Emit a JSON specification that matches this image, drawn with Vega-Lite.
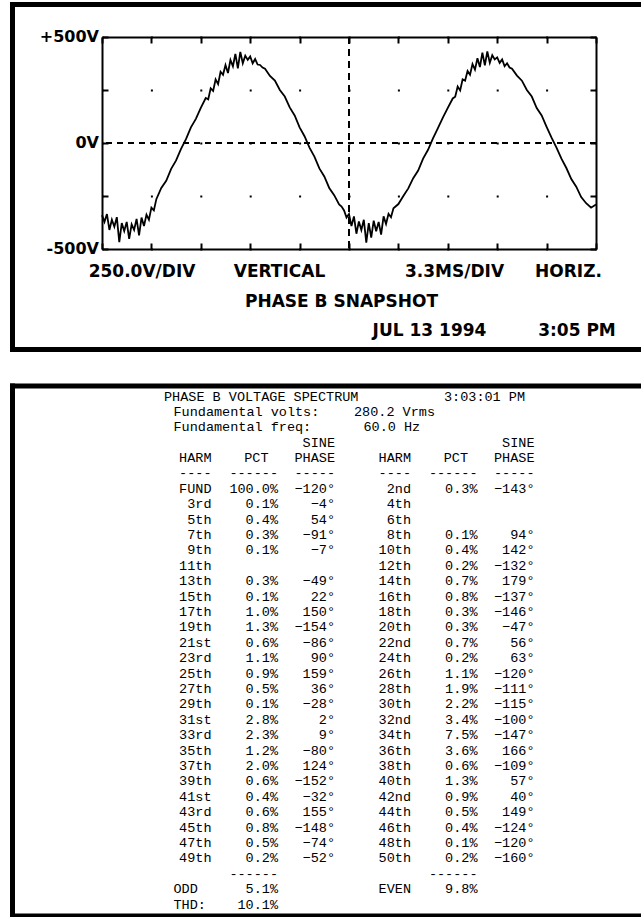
{
  "$schema": "https://vega.github.io/schema/vega-lite/v6.json",
  "padding": {"left": 8, "top": 0, "right": 0, "bottom": 0},
  "background": "white",
  "spacing": 28,
  "config": {
    "view": {"stroke": null},
    "text": {"font": "Liberation Mono", "fontSize": 13.5, "baseline": "middle", "color": "#000"}
  },
  "datasets": {
    "wave": [
      {"t":0,"v":-340},{"t":0.165,"v":-372},{"t":0.33,"v":-335},{"t":0.495,"v":-410},{"t":0.66,"v":-362},{"t":0.825,"v":-395},
      {"t":0.99,"v":-350},{"t":1.155,"v":-468},{"t":1.32,"v":-378},{"t":1.485,"v":-415},{"t":1.65,"v":-372},{"t":1.815,"v":-452},
      {"t":1.98,"v":-384},{"t":2.145,"v":-410},{"t":2.31,"v":-358},{"t":2.475,"v":-436},{"t":2.64,"v":-352},{"t":2.805,"v":-392},
      {"t":2.97,"v":-338},{"t":3.135,"v":-362},{"t":3.3,"v":-305},{"t":3.465,"v":-318},{"t":3.63,"v":-265},
      {"t":3.96,"v":-212},{"t":4.29,"v":-178},{"t":4.62,"v":-122},{"t":4.95,"v":-82},{"t":5.28,"v":-28},{"t":5.61,"v":18},
      {"t":5.94,"v":74},{"t":6.27,"v":114},{"t":6.6,"v":166},
      {"t":6.93,"v":212},{"t":7.095,"v":206},{"t":7.26,"v":258},{"t":7.425,"v":246},{"t":7.59,"v":300},{"t":7.755,"v":278},
      {"t":7.92,"v":336},{"t":8.085,"v":322},{"t":8.25,"v":368},{"t":8.415,"v":330},{"t":8.58,"v":392},{"t":8.745,"v":362},
      {"t":8.91,"v":420},{"t":9.075,"v":352},{"t":9.24,"v":430},{"t":9.405,"v":376},{"t":9.57,"v":412},{"t":9.735,"v":392},
      {"t":9.9,"v":408},{"t":10.065,"v":376},{"t":10.23,"v":396},{"t":10.395,"v":370},{"t":10.56,"v":368},{"t":10.725,"v":356},
      {"t":10.89,"v":350},
      {"t":11.22,"v":316},{"t":11.55,"v":294},{"t":11.88,"v":250},{"t":12.21,"v":219},{"t":12.54,"v":168},{"t":12.87,"v":130},
      {"t":13.2,"v":74},{"t":13.53,"v":32},{"t":13.86,"v":-22},{"t":14.19,"v":-64},{"t":14.52,"v":-120},{"t":14.85,"v":-158},
      {"t":15.18,"v":-212},{"t":15.51,"v":-246},{"t":15.84,"v":-290},
      {"t":16.005,"v":-300},{"t":16.17,"v":-318},{"t":16.335,"v":-352},{"t":16.5,"v":-335},{"t":16.665,"v":-392},{"t":16.83,"v":-346},
      {"t":16.995,"v":-428},{"t":17.16,"v":-370},{"t":17.325,"v":-410},{"t":17.49,"v":-362},{"t":17.655,"v":-470},{"t":17.82,"v":-378},
      {"t":17.985,"v":-446},{"t":18.15,"v":-366},{"t":18.315,"v":-416},{"t":18.48,"v":-372},{"t":18.645,"v":-432},{"t":18.81,"v":-346},
      {"t":18.975,"v":-382},{"t":19.14,"v":-334},{"t":19.305,"v":-350},{"t":19.47,"v":-308},
      {"t":19.8,"v":-288},{"t":20.13,"v":-250},{"t":20.46,"v":-214},{"t":20.79,"v":-166},{"t":21.12,"v":-130},{"t":21.45,"v":-74},
      {"t":21.78,"v":-32},{"t":22.11,"v":22},{"t":22.44,"v":70},{"t":22.77,"v":120},{"t":23.1,"v":166},{"t":23.43,"v":210},
      {"t":23.595,"v":218},{"t":23.76,"v":266},{"t":23.925,"v":248},{"t":24.09,"v":300},{"t":24.255,"v":294},{"t":24.42,"v":340},
      {"t":24.585,"v":322},{"t":24.75,"v":372},{"t":24.915,"v":346},{"t":25.08,"v":400},{"t":25.245,"v":358},{"t":25.41,"v":426},
      {"t":25.575,"v":366},{"t":25.74,"v":432},{"t":25.905,"v":378},{"t":26.07,"v":414},{"t":26.235,"v":394},{"t":26.4,"v":404},
      {"t":26.565,"v":378},{"t":26.73,"v":394},{"t":26.895,"v":362},{"t":27.06,"v":376},{"t":27.225,"v":356},{"t":27.39,"v":350},
      {"t":27.72,"v":318},{"t":28.05,"v":294},{"t":28.38,"v":250},{"t":28.71,"v":219},{"t":29.04,"v":165},{"t":29.37,"v":130},
      {"t":29.7,"v":76},{"t":30.03,"v":25},{"t":30.36,"v":-22},{"t":30.69,"v":-74},{"t":31.02,"v":-118},{"t":31.35,"v":-170},
      {"t":31.68,"v":-206},{"t":32.01,"v":-255},{"t":32.34,"v":-284},{"t":32.67,"v":-305},{"t":33,"v":-290}
    ],
    "ylab": [
      {"label": "+500V", "v": 500},
      {"label": "0V", "v": 0},
      {"label": "-500V", "v": -500}
    ],
    "info": [
      {"line": 0, "a": "PHASE B VOLTAGE SPECTRUM", "b": "3:03:01 PM"},
      {"line": 1, "a": "Fundamental volts:", "b": "280.2 Vrms"},
      {"line": 2, "a": "Fundamental freq:", "b": "60.0 Hz"}
    ],
    "table": [
      {"line":3,"oh":"","op":"","ox":"SINE","eh":"","ep":"","ex":"SINE"},
      {"line":4,"oh":"HARM","op":"","oq":"PCT","ox":"PHASE","eh":"HARM","ep":"","eq":"PCT","ex":"PHASE"},
      {"line":5,"oh":"----","op":"------","ox":"-----","eh":"----","ep":"------","ex":"-----"},
      {"line":6,"oh":"FUND","op":"100.0%","ox":"−120°","eh":"2nd","ep":"0.3%","ex":"−143°"},
      {"line":7,"oh":"3rd","op":"0.1%","ox":"−4°","eh":"4th","ep":"","ex":""},
      {"line":8,"oh":"5th","op":"0.4%","ox":"54°","eh":"6th","ep":"","ex":""},
      {"line":9,"oh":"7th","op":"0.3%","ox":"−91°","eh":"8th","ep":"0.1%","ex":"94°"},
      {"line":10,"oh":"9th","op":"0.1%","ox":"−7°","eh":"10th","ep":"0.4%","ex":"142°"},
      {"line":11,"oh":"11th","op":"","ox":"","eh":"12th","ep":"0.2%","ex":"−132°"},
      {"line":12,"oh":"13th","op":"0.3%","ox":"−49°","eh":"14th","ep":"0.7%","ex":"179°"},
      {"line":13,"oh":"15th","op":"0.1%","ox":"22°","eh":"16th","ep":"0.8%","ex":"−137°"},
      {"line":14,"oh":"17th","op":"1.0%","ox":"150°","eh":"18th","ep":"0.3%","ex":"−146°"},
      {"line":15,"oh":"19th","op":"1.3%","ox":"−154°","eh":"20th","ep":"0.3%","ex":"−47°"},
      {"line":16,"oh":"21st","op":"0.6%","ox":"−86°","eh":"22nd","ep":"0.7%","ex":"56°"},
      {"line":17,"oh":"23rd","op":"1.1%","ox":"90°","eh":"24th","ep":"0.2%","ex":"63°"},
      {"line":18,"oh":"25th","op":"0.9%","ox":"159°","eh":"26th","ep":"1.1%","ex":"−120°"},
      {"line":19,"oh":"27th","op":"0.5%","ox":"36°","eh":"28th","ep":"1.9%","ex":"−111°"},
      {"line":20,"oh":"29th","op":"0.1%","ox":"−28°","eh":"30th","ep":"2.2%","ex":"−115°"},
      {"line":21,"oh":"31st","op":"2.8%","ox":"2°","eh":"32nd","ep":"3.4%","ex":"−100°"},
      {"line":22,"oh":"33rd","op":"2.3%","ox":"9°","eh":"34th","ep":"7.5%","ex":"−147°"},
      {"line":23,"oh":"35th","op":"1.2%","ox":"−80°","eh":"36th","ep":"3.6%","ex":"166°"},
      {"line":24,"oh":"37th","op":"2.0%","ox":"124°","eh":"38th","ep":"0.6%","ex":"−109°"},
      {"line":25,"oh":"39th","op":"0.6%","ox":"−152°","eh":"40th","ep":"1.3%","ex":"57°"},
      {"line":26,"oh":"41st","op":"0.4%","ox":"−32°","eh":"42nd","ep":"0.9%","ex":"40°"},
      {"line":27,"oh":"43rd","op":"0.6%","ox":"155°","eh":"44th","ep":"0.5%","ex":"149°"},
      {"line":28,"oh":"45th","op":"0.8%","ox":"−148°","eh":"46th","ep":"0.4%","ex":"−124°"},
      {"line":29,"oh":"47th","op":"0.5%","ox":"−74°","eh":"48th","ep":"0.1%","ex":"−120°"},
      {"line":30,"oh":"49th","op":"0.2%","ox":"−52°","eh":"50th","ep":"0.2%","ex":"−160°"},
      {"line":31,"oh":"","op":"------","ox":"","eh":"","ep":"------","ex":""},
      {"line":32,"oh":"","ol":"ODD","op":"5.1%","ox":"","eh":"EVEN","ep":"9.8%","ex":""},
      {"line":33,"oh":"","ol":"THD:","op":"10.1%","ox":"","eh":"","ep":"","ex":""}
    ]
  },
  "vconcat": [
    {
      "width": 494,
      "height": 212,
      "resolve": {"axis": {"x": "independent", "y": "independent"}},
      "layer": [
        {
          "data": {"values": [{}]},
          "mark": {"type": "rule", "color": "#000", "strokeWidth": 2, "strokeDash": [6, 5]},
          "encoding": {
            "y": {"datum": 0, "type": "quantitative", "scale": {"domain": [-500, 500], "nice": false, "zero": false},
              "axis": {"orient": "right", "values": [-500, -250, 0, 250, 500], "labels": false, "title": null, "tickSize": -6, "tickWidth": 2, "tickColor": "#000", "domainColor": "#000", "domainWidth": 2, "grid": false}}
          }
        },
        {
          "data": {"values": [{}]},
          "mark": {"type": "rule", "color": "#000", "strokeWidth": 2, "strokeDash": [7, 5]},
          "encoding": {
            "x": {"datum": 16.5, "type": "quantitative", "scale": {"domain": [0, 33], "nice": false, "zero": false},
              "axis": {"orient": "top", "values": [0, 3.3, 6.6, 9.9, 13.2, 16.5, 19.8, 23.1, 26.4, 29.7, 33], "labels": false, "title": null, "tickSize": -6, "tickWidth": 2, "tickColor": "#000", "domainColor": "#000", "domainWidth": 2, "grid": false}}
          }
        },
        {
          "data": {"values": [{}]},
          "mark": {"type": "rule", "color": "#000", "strokeWidth": 5, "strokeCap": "square"},
          "encoding": {
            "x": {"datum": -5.979, "type": "quantitative", "axis": null},
            "y": {"datum": 653.3, "type": "quantitative", "axis": null},
            "y2": {"datum": -974.06}
          }
        },
        {
          "data": {"values": [{}]},
          "mark": {"type": "rule", "color": "#000", "strokeWidth": 5, "strokeCap": "square"},
          "encoding": {
            "x": {"datum": -5.979, "type": "quantitative", "axis": null},
            "x2": {"datum": 35.973},
            "y": {"datum": 653.3, "type": "quantitative", "axis": null}
          }
        },
        {
          "data": {"values": [{}]},
          "mark": {"type": "rule", "color": "#000", "strokeWidth": 5, "strokeCap": "square"},
          "encoding": {
            "x": {"datum": -5.979, "type": "quantitative", "axis": null},
            "x2": {"datum": 35.973},
            "y": {"datum": -974.06, "type": "quantitative", "axis": null}
          }
        },
        {
          "data": {"name": "ylab"},
          "mark": {"type": "text", "align": "right", "baseline": "middle", "font": "DejaVu Sans", "fontWeight": "bold", "fontSize": 16},
          "encoding": {
            "x": {"datum": -0.2, "type": "quantitative", "axis": null},
            "y": {"field": "v", "type": "quantitative", "axis": null},
            "text": {"field": "label"}
          }
        },
        {
          "data": {"values": [{}]},
          "mark": {"type": "text", "align": "center", "baseline": "middle", "font": "DejaVu Sans", "fontWeight": "bold", "fontSize": 17},
          "encoding": {"x": {"datum": 2.672, "type": "quantitative", "axis": null}, "y": {"datum": -608.5, "type": "quantitative", "axis": null}, "text": {"value": "250.0V/DIV"}}
        },
        {
          "data": {"values": [{}]},
          "mark": {"type": "text", "align": "center", "baseline": "middle", "font": "DejaVu Sans", "fontWeight": "bold", "fontSize": 17},
          "encoding": {"x": {"datum": 11.857, "type": "quantitative", "axis": null}, "y": {"datum": -608.5, "type": "quantitative", "axis": null}, "text": {"value": "VERTICAL"}}
        },
        {
          "data": {"values": [{}]},
          "mark": {"type": "text", "align": "center", "baseline": "middle", "font": "DejaVu Sans", "fontWeight": "bold", "fontSize": 17},
          "encoding": {"x": {"datum": 23.547, "type": "quantitative", "axis": null}, "y": {"datum": -608.5, "type": "quantitative", "axis": null}, "text": {"value": "3.3MS/DIV"}}
        },
        {
          "data": {"values": [{}]},
          "mark": {"type": "text", "align": "center", "baseline": "middle", "font": "DejaVu Sans", "fontWeight": "bold", "fontSize": 17},
          "encoding": {"x": {"datum": 31.163, "type": "quantitative", "axis": null}, "y": {"datum": -608.5, "type": "quantitative", "axis": null}, "text": {"value": "HORIZ."}}
        },
        {
          "data": {"values": [{}]},
          "mark": {"type": "text", "align": "center", "baseline": "middle", "font": "DejaVu Sans", "fontWeight": "bold", "fontSize": 17},
          "encoding": {"x": {"datum": 15.999, "type": "quantitative", "axis": null}, "y": {"datum": -750, "type": "quantitative", "axis": null}, "text": {"value": "PHASE B SNAPSHOT"}}
        },
        {
          "data": {"values": [{}]},
          "mark": {"type": "text", "align": "center", "baseline": "middle", "font": "DejaVu Sans", "fontWeight": "bold", "fontSize": 17},
          "encoding": {"x": {"datum": 21.877, "type": "quantitative", "axis": null}, "y": {"datum": -886.8, "type": "quantitative", "axis": null}, "text": {"value": "JUL 13 1994"}}
        },
        {
          "data": {"values": [{}]},
          "mark": {"type": "text", "align": "center", "baseline": "middle", "font": "DejaVu Sans", "fontWeight": "bold", "fontSize": 17},
          "encoding": {"x": {"datum": 31.731, "type": "quantitative", "axis": null}, "y": {"datum": -886.8, "type": "quantitative", "axis": null}, "text": {"value": "3:05 PM"}}
        },
        {
          "data": {"name": "wave"},
          "mark": {"type": "line", "color": "#000", "strokeWidth": 1.8},
          "encoding": {
            "x": {"field": "t", "type": "quantitative", "scale": {"domain": [0, 33], "nice": false, "zero": false},
              "axis": {"orient": "bottom", "values": [0, 3.3, 6.6, 9.9, 13.2, 16.5, 19.8, 23.1, 26.4, 29.7, 33], "labels": false, "title": null, "tickSize": -6, "tickWidth": 2, "tickColor": "#000", "domainColor": "#000", "domainWidth": 2, "grid": false}},
            "y": {"field": "v", "type": "quantitative", "scale": {"domain": [-500, 500], "nice": false, "zero": false},
              "axis": {"orient": "left", "values": [-500, -250, 0, 250, 500], "labels": false, "title": null, "tickSize": -6, "tickWidth": 2, "tickColor": "#000", "domainColor": "#000", "domainWidth": 2, "grid": true, "gridColor": "#000", "gridWidth": 2, "gridOpacity": 1, "gridDash": [2, 47.4], "gridDashOffset": 1}}
          }
        }
      ]
    },
    {
      "width": 494,
      "height": 530,
      "resolve": {"scale": {"x": "independent", "y": "independent"}},
      "layer": [
        {
          "layer": [
            {
              "data": {"values": [{}]},
              "mark": {"type": "rule", "color": "#000", "strokeWidth": 5, "strokeCap": "square"},
              "encoding": {
                "x": {"datum": -0.181174, "type": "quantitative", "scale": {"domain": [0, 1], "nice": false, "zero": false}, "axis": null},
                "y": {"datum": 0, "type": "quantitative", "scale": {"domain": [0, 1], "nice": false, "zero": false}, "axis": null},
                "y2": {"datum": 1}
              }
            },
            {
              "data": {"values": [{}]},
              "mark": {"type": "rule", "color": "#000", "strokeWidth": 5, "strokeCap": "square"},
              "encoding": {
                "x": {"datum": -0.181174, "type": "quantitative", "axis": null},
                "x2": {"datum": 1.090081},
                "y": {"datum": 1, "type": "quantitative", "axis": null}
              }
            },
            {
              "data": {"values": [{}]},
              "mark": {"type": "rule", "color": "#000", "strokeWidth": 5, "strokeCap": "square"},
              "encoding": {
                "x": {"datum": -0.181174, "type": "quantitative", "axis": null},
                "x2": {"datum": 1.090081},
                "y": {"datum": 0, "type": "quantitative", "axis": null}
              }
            }
          ]
        },
        {
          "layer": [
            {
              "data": {"name": "info"},
              "transform": [{"filter": "datum.line == 0"}],
              "mark": {"type": "text", "align": "left"},
              "encoding": {
                "x": {"datum": 0, "type": "quantitative", "scale": {"domain": [-6.526316, 45.473684], "nice": false, "zero": false}, "axis": null},
                "y": {"field": "line", "type": "quantitative", "scale": {"domain": [-0.68182, 33.7338], "reverse": true, "nice": false, "zero": false}, "axis": null},
                "text": {"field": "a"}
              }
            },
            {
              "data": {"name": "info"},
              "transform": [{"filter": "datum.line == 0"}],
              "mark": {"type": "text", "align": "right"},
              "encoding": {"x": {"datum": 38, "type": "quantitative", "axis": null}, "y": {"field": "line", "type": "quantitative", "axis": null}, "text": {"field": "b"}}
            },
            {
              "data": {"name": "info"},
              "transform": [{"filter": "datum.line > 0"}],
              "mark": {"type": "text", "align": "left"},
              "encoding": {"x": {"datum": 1, "type": "quantitative", "axis": null}, "y": {"field": "line", "type": "quantitative", "axis": null}, "text": {"field": "a"}}
            },
            {
              "data": {"name": "info"},
              "transform": [{"filter": "datum.line == 1"}],
              "mark": {"type": "text", "align": "left"},
              "encoding": {"x": {"datum": 20, "type": "quantitative", "axis": null}, "y": {"field": "line", "type": "quantitative", "axis": null}, "text": {"field": "b"}}
            },
            {
              "data": {"name": "info"},
              "transform": [{"filter": "datum.line == 2"}],
              "mark": {"type": "text", "align": "left"},
              "encoding": {"x": {"datum": 21, "type": "quantitative", "axis": null}, "y": {"field": "line", "type": "quantitative", "axis": null}, "text": {"field": "b"}}
            },
            {
              "data": {"name": "table"},
              "transform": [{"filter": "isValid(datum.ol)"}],
              "mark": {"type": "text", "align": "left"},
              "encoding": {"x": {"datum": 1, "type": "quantitative", "axis": null}, "y": {"field": "line", "type": "quantitative", "axis": null}, "text": {"field": "ol"}}
            },
            {
              "data": {"name": "table"},
              "mark": {"type": "text", "align": "right"},
              "encoding": {"x": {"datum": 5, "type": "quantitative", "axis": null}, "y": {"field": "line", "type": "quantitative", "axis": null}, "text": {"field": "oh"}}
            },
            {
              "data": {"name": "table"},
              "mark": {"type": "text", "align": "right"},
              "encoding": {"x": {"datum": 12, "type": "quantitative", "axis": null}, "y": {"field": "line", "type": "quantitative", "axis": null}, "text": {"field": "op"}}
            },
            {
              "data": {"name": "table"},
              "transform": [{"filter": "isValid(datum.oq)"}],
              "mark": {"type": "text", "align": "right"},
              "encoding": {"x": {"datum": 11, "type": "quantitative", "axis": null}, "y": {"field": "line", "type": "quantitative", "axis": null}, "text": {"field": "oq"}}
            },
            {
              "data": {"name": "table"},
              "mark": {"type": "text", "align": "right"},
              "encoding": {"x": {"datum": 18, "type": "quantitative", "axis": null}, "y": {"field": "line", "type": "quantitative", "axis": null}, "text": {"field": "ox"}}
            },
            {
              "data": {"name": "table"},
              "mark": {"type": "text", "align": "right"},
              "encoding": {"x": {"datum": 26, "type": "quantitative", "axis": null}, "y": {"field": "line", "type": "quantitative", "axis": null}, "text": {"field": "eh"}}
            },
            {
              "data": {"name": "table"},
              "mark": {"type": "text", "align": "right"},
              "encoding": {"x": {"datum": 33, "type": "quantitative", "axis": null}, "y": {"field": "line", "type": "quantitative", "axis": null}, "text": {"field": "ep"}}
            },
            {
              "data": {"name": "table"},
              "transform": [{"filter": "isValid(datum.eq)"}],
              "mark": {"type": "text", "align": "right"},
              "encoding": {"x": {"datum": 32, "type": "quantitative", "axis": null}, "y": {"field": "line", "type": "quantitative", "axis": null}, "text": {"field": "eq"}}
            },
            {
              "data": {"name": "table"},
              "mark": {"type": "text", "align": "right"},
              "encoding": {"x": {"datum": 39, "type": "quantitative", "axis": null}, "y": {"field": "line", "type": "quantitative", "axis": null}, "text": {"field": "ex"}}
            }
          ]
        }
      ]
    }
  ]
}
